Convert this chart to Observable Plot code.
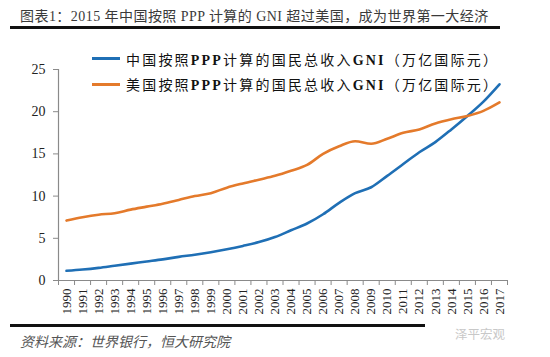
<!DOCTYPE html>
<html>
<head>
<meta charset="utf-8">
<script src="https://cdn.jsdelivr.net/npm/d3@7"></script>
<script src="https://cdn.jsdelivr.net/npm/@observablehq/plot@0.6"></script>
<style>
  html, body { margin: 0; padding: 0; background: #fff; }
  #wrap { position: relative; width: 550px; height: 357px; overflow: hidden; font-family: "Liberation Serif", "Noto Sans CJK SC", serif; }
  #chart { position: absolute; left: 0; top: 0; }
  #title { position: absolute; left: 20px; top: 5px; font-size: 14px; color: #3a3a3a; white-space: nowrap; letter-spacing: 0.45px; }
  .rule { position: absolute; left: 10px; width: 490px; height: 2.5px; background: #111; }
  #legend { position: absolute; left: 92px; top: 46px; font-size: 14px; color: #111; }
  .li { display: flex; align-items: center; height: 25.5px; white-space: nowrap; letter-spacing: 2.2px; }
  .sw { width: 28px; height: 2.6px; margin-right: 6px; }
  #source { position: absolute; left: 20px; top: 331px; font-size: 14px; color: #555; font-style: italic; letter-spacing: 0px; white-space: nowrap; }
  #wm { position: absolute; left: 455px; top: 324px; font-size: 12.5px; color: #c8c8c8; white-space: nowrap; }
</style>
</head>
<body>
<div id="wrap">
  <div id="chart"></div>
  <div id="title">图表1：2015 年中国按照 PPP 计算的 GNI 超过美国，成为世界第一大经济</div>
  <div class="rule" style="top:26px"></div>
  <div id="legend"></div>
  <div class="rule" style="top:324px; width:415px"></div>
  <div id="source">资料来源：世界银行，恒大研究院</div>
  <div id="wm">泽平宏观</div>
</div>
<script>
const years = [1990,1991,1992,1993,1994,1995,1996,1997,1998,1999,2000,2001,2002,2003,2004,2005,2006,2007,2008,2009,2010,2011,2012,2013,2014,2015,2016,2017];
const china = [1.15,1.3,1.5,1.75,2.0,2.25,2.5,2.8,3.05,3.35,3.7,4.1,4.55,5.15,5.95,6.75,7.85,9.2,10.35,11.05,12.4,13.8,15.2,16.4,17.9,19.5,21.2,23.25];
const us = [7.1,7.5,7.8,7.97,8.4,8.75,9.1,9.55,10.0,10.35,11.0,11.5,11.95,12.4,13.0,13.7,15.0,15.9,16.5,16.2,16.8,17.5,17.9,18.6,19.1,19.5,20.1,21.1];
const yTicks = [0,5,10,15,20,25];
const seriesNames = ["中国按照PPP计算的国民总收入GNI（万亿国际元）", "美国按照PPP计算的国民总收入GNI（万亿国际元）"];
const colors = ["#1f6fb5", "#e47a2b"];

const rows = [];
years.forEach((yr, i) => {
  rows.push({year: yr, value: china[i], series: seriesNames[0]});
  rows.push({year: yr, value: us[i], series: seriesNames[1]});
});
const bounds = years.map(y => y - 0.5).concat([years[years.length - 1] + 0.5]);

const chart = Plot.plot({
  width: 550,
  height: 357,
  marginTop: 69,
  marginBottom: 77,
  marginLeft: 58,
  marginRight: 43,
  style: {fontFamily: "'Liberation Serif', serif", color: "#222", background: "transparent"},
  x: {type: "linear", domain: [bounds[0], bounds[bounds.length - 1]]},
  y: {domain: [0, 25]},
  color: {domain: seriesNames, range: colors},
  marks: [
    Plot.ruleY([0], {stroke: "#8a8a8a", strokeWidth: 1.2}),
    Plot.ruleX([bounds[0]], {y1: 0, y2: 25, stroke: "#8a8a8a", strokeWidth: 1.2}),
    Plot.axisY({ticks: yTicks, tickSize: 5, tickPadding: 8, label: null, fontSize: 14, stroke: "#8a8a8a", fill: "#222"}),
    Plot.axisX({ticks: years, tickSize: 0, tickPadding: 8, tickRotate: -90, tickFormat: d => String(d), label: null, fontSize: 13, fill: "#222"}),
    Plot.axisX({ticks: bounds, tickSize: 5, tickFormat: () => "", label: null, stroke: "#8a8a8a"}),
    Plot.line(rows, {x: "year", y: "value", stroke: "series", z: "series", strokeWidth: 2.6, curve: "monotone-x"})
  ]
});
document.getElementById("chart").appendChild(chart);

const legend = document.getElementById("legend");
seriesNames.forEach((name, i) => {
  const row = document.createElement("div");
  row.className = "li";
  const sw = document.createElement("span");
  sw.className = "sw";
  sw.style.background = colors[i];
  row.appendChild(sw);
  const t = document.createElement("span");
  t.innerHTML = name.replace("PPP", "<b>PPP</b>").replace("GNI", "<b>GNI</b>");
  row.appendChild(t);
  legend.appendChild(row);
});
</script>
</body>
</html>
